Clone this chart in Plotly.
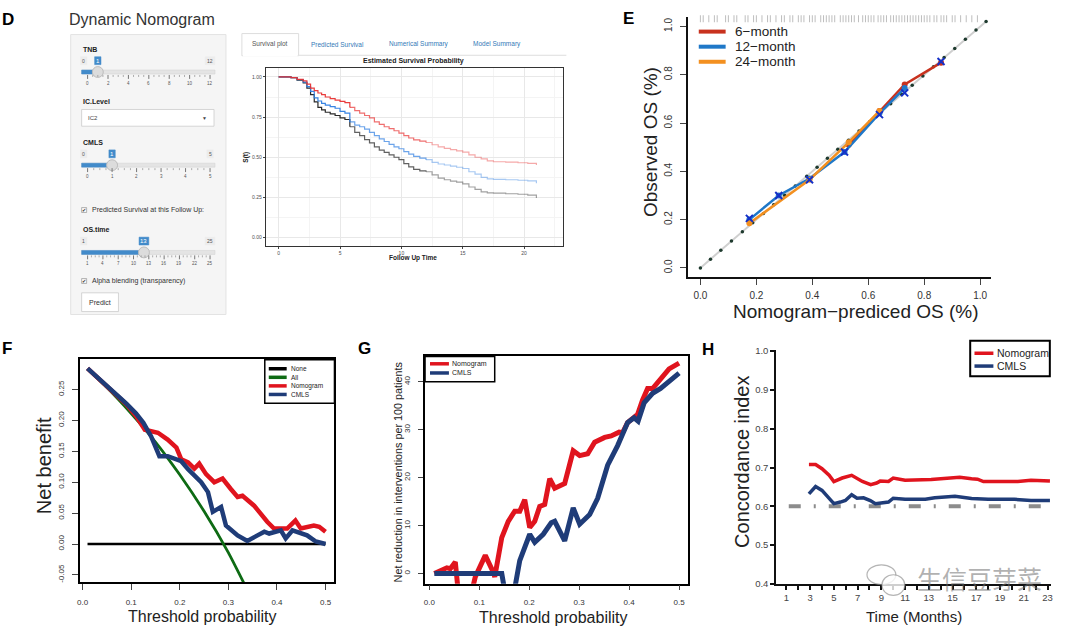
import plotly.graph_objects as go

W, H = 1080, 632
FONT = "Liberation Sans, Arial, sans-serif"

# ======================= DATA =======================
# Panel D - predicted survival curves (three covariate profiles)
km_time = [0, 1.0, 1.5, 2.0, 2.3, 2.6, 2.9, 3.2, 3.5, 3.8, 4.2, 4.6, 5.0, 5.4, 5.8,
           6.2, 6.6, 7.0, 7.4, 7.8, 8.2, 8.6, 9.0, 9.4, 9.8, 10.2, 10.6, 11.0, 11.5,
           12.0, 12.5, 13.0, 13.5, 14.0, 14.5, 15.0, 15.5, 16.0, 16.5, 17.0, 17.5,
           18.5, 19.5, 20.3, 21.0]
km_surv_red = [1.0, 0.995, 0.985, 0.975, 0.955, 0.93, 0.915, 0.90, 0.89, 0.875, 0.865,
               0.855, 0.848, 0.84, 0.81, 0.79, 0.775, 0.76, 0.745, 0.72, 0.705, 0.69,
               0.678, 0.665, 0.65, 0.635, 0.62, 0.608, 0.60, 0.592, 0.578, 0.565, 0.555,
               0.548, 0.54, 0.532, 0.515, 0.50, 0.49, 0.478, 0.472, 0.470, 0.466, 0.462,
               0.452]
km_surv_blue = [1.0, 0.995, 0.983, 0.968, 0.94, 0.91, 0.87, 0.85, 0.835, 0.825, 0.815,
                0.805, 0.785, 0.775, 0.72, 0.70, 0.69, 0.675, 0.655, 0.635, 0.615, 0.598,
                0.58, 0.565, 0.553, 0.535, 0.52, 0.505, 0.495, 0.485, 0.468, 0.458, 0.452,
                0.445, 0.438, 0.43, 0.41, 0.395, 0.375, 0.365, 0.362, 0.36, 0.357, 0.353,
                0.339]
km_surv_black = [1.0, 0.995, 0.98, 0.963, 0.93, 0.89, 0.845, 0.81, 0.795, 0.78, 0.77,
                 0.76, 0.745, 0.735, 0.69, 0.655, 0.635, 0.61, 0.59, 0.565, 0.545, 0.53,
                 0.515, 0.50, 0.485, 0.46, 0.44, 0.425, 0.415, 0.41, 0.39, 0.37, 0.36,
                 0.352, 0.345, 0.335, 0.315, 0.30, 0.285, 0.278, 0.277, 0.273, 0.27, 0.265,
                 0.247]
km_xticks = [0, 5, 10, 15, 20]
km_yticks = [0, 0.25, 0.5, 0.75, 1.0]
km_yticktext = ["0.00", "0.25", "0.50", "0.75", "1.00"]

# Shiny app widgets
tabs = ["Survival plot", "Predicted Survival", "Numerical Summary", "Model Summary"]
tnb_ticks = ["0", "2", "4", "6", "8", "10", "12"]
cmls_ticks = ["0", "1", "2", "3", "4", "5"]
ostime_ticks = ["1", "4", "7", "10", "13", "16", "19", "22", "25"]

# Panel E - calibration
cal_6m_x = [0.53, 0.64, 0.73, 0.86]
cal_6m_y = [0.51, 0.65, 0.76, 0.85]
cal_12m_x = [0.175, 0.28, 0.39, 0.515, 0.64, 0.73]
cal_12m_y = [0.20, 0.30, 0.37, 0.48, 0.64, 0.745]
cal_24m_x = [0.175, 0.39, 0.53, 0.64]
cal_24m_y = [0.185, 0.365, 0.52, 0.65]
cal_corr_x = [0.175, 0.28, 0.39, 0.515, 0.64, 0.73, 0.86]
cal_corr_y = [0.205, 0.30, 0.365, 0.48, 0.635, 0.725, 0.855]
ideal_pts = [0.0, 0.036, 0.073, 0.111, 0.150, 0.187, 0.225, 0.262, 0.301, 0.339, 0.380,
             0.417, 0.454, 0.491, 0.529, 0.567, 0.605, 0.643, 0.680, 0.719, 0.757, 0.795,
             0.833, 0.871, 0.909, 0.947, 0.985, 1.021]
rug_x = [0.0, 0.01, 0.03, 0.05, 0.06, 0.09, 0.1, 0.12, 0.13, 0.16, 0.17, 0.19, 0.2, 0.22,
         0.24, 0.25, 0.27, 0.29, 0.3, 0.32, 0.33, 0.35, 0.36, 0.37, 0.39, 0.4, 0.41, 0.43,
         0.44, 0.45, 0.46, 0.47, 0.48, 0.5, 0.51, 0.52, 0.53, 0.54, 0.55, 0.565, 0.58, 0.59,
         0.6, 0.61, 0.62, 0.635, 0.645, 0.655, 0.665, 0.68, 0.69, 0.7, 0.71, 0.72, 0.73,
         0.74, 0.75, 0.76, 0.77, 0.78, 0.79, 0.8, 0.81, 0.82, 0.835, 0.845, 0.86, 0.87, 0.88,
         0.9, 0.91, 0.93, 0.95, 0.97, 0.99]
e_ticks = [0, 0.2, 0.4, 0.6, 0.8, 1.0]
e_ticktext = ["0.0", "0.2", "0.4", "0.6", "0.8", "1.0"]

# Panel F - decision curve
dca_none_x = [0.01, 0.5]
dca_none_y = [0.0, 0.0]
dca_all_x = [0.01, 0.05, 0.10, 0.15, 0.20, 0.25, 0.30, 0.335]
dca_all_y = [0.283, 0.253, 0.211, 0.165, 0.112, 0.053, -0.014, -0.068]
dca_nomo_x = [0.01, 0.03, 0.05, 0.07, 0.09, 0.11, 0.128, 0.155, 0.175, 0.193, 0.203,
              0.217, 0.230, 0.240, 0.254, 0.271, 0.288, 0.305, 0.319, 0.329, 0.353,
              0.380, 0.394, 0.421, 0.438, 0.449, 0.476, 0.487, 0.5]
dca_nomo_y = [0.284, 0.27, 0.254, 0.24, 0.226, 0.207, 0.185, 0.18, 0.169, 0.156, 0.137,
              0.132, 0.122, 0.130, 0.113, 0.100, 0.106, 0.089, 0.076, 0.078, 0.062,
              0.036, 0.025, 0.025, 0.038, 0.025, 0.030, 0.028, 0.020]
dca_cmls_x = [0.01, 0.03, 0.05, 0.07, 0.09, 0.11, 0.125, 0.141, 0.158, 0.175, 0.203,
              0.217, 0.244, 0.258, 0.268, 0.285, 0.295, 0.319, 0.339, 0.360, 0.374,
              0.384, 0.408, 0.418, 0.432, 0.462, 0.480, 0.5]
dca_cmls_y = [0.284, 0.27, 0.256, 0.241, 0.227, 0.211, 0.196, 0.174, 0.142, 0.142, 0.134,
              0.121, 0.100, 0.084, 0.052, 0.060, 0.030, 0.014, 0.005, 0.014, 0.020,
              0.017, 0.022, 0.009, 0.022, 0.014, 0.004, 0.0]
f_xticks = [0, 0.1, 0.2, 0.3, 0.4, 0.5]
f_xticktext = ["0.0", "0.1", "0.2", "0.3", "0.4", "0.5"]
f_yticks = [-0.05, 0, 0.05, 0.10, 0.15, 0.20, 0.25]
f_yticktext = ["-0.05", "0.00", "0.05", "0.10", "0.15", "0.20", "0.25"]

# Panel G - net reduction in interventions
nr_nomo_x = [0.01, 0.022, 0.035, 0.042, 0.052, 0.060, 0.080, 0.092, 0.112, 0.128, 0.131,
             0.145, 0.158, 0.171, 0.181, 0.191, 0.201, 0.211, 0.221, 0.231, 0.241, 0.251,
             0.271, 0.288, 0.301, 0.317, 0.331, 0.351, 0.364, 0.380, 0.387, 0.397, 0.417,
             0.427, 0.437, 0.447, 0.467, 0.480, 0.5]
nr_nomo_y = [0, 0.7, 1.2, 1.0, 2.4, -6, -6, -0.7, 3.8, 0.3, -0.7, 7.5, 10.9, 13.0, 13.0,
             15.4, 9.6, 10.9, 14.0, 14.4, 19.8, 17.8, 18.8, 25.6, 24.6, 25.0, 27.4, 28.4,
             28.7, 29.5, 29.4, 31.5, 33.2, 36.2, 38.6, 38.6, 41.0, 42.7, 43.9]
nr_cmls_x = [0.01, 0.145, 0.155, 0.166, 0.181, 0.201, 0.211, 0.228, 0.244, 0.251, 0.271,
             0.288, 0.301, 0.321, 0.337, 0.357, 0.377, 0.397, 0.410, 0.418, 0.430, 0.447,
             0.463, 0.477, 0.5]
nr_cmls_y = [0, 0, -6, -6, 2.7, 8.2, 6.5, 8.2, 10.6, 10.9, 6.8, 13.7, 10.3, 12.3, 15.7,
             22.6, 26.7, 31.5, 32.5, 31.8, 35.6, 37.6, 38.6, 39.7, 41.8]
g_yticks = [0, 10, 20, 30, 40]

# Panel H - time-dependent C-index
ci_nomo_t = [2.9, 3.46, 4.0, 4.6, 5.0, 5.7, 6.5, 7.4, 8.1, 8.6, 8.9, 9.6, 10.0, 11.0,
             13.2, 14.6, 15.6, 16.6, 17.1, 17.6, 18.8, 20.5, 21.6, 23.2]
ci_nomo = [0.708, 0.708, 0.697, 0.680, 0.664, 0.673, 0.680, 0.664, 0.656, 0.660, 0.665,
           0.664, 0.673, 0.667, 0.669, 0.672, 0.675, 0.671, 0.670, 0.664, 0.664, 0.664,
           0.667, 0.665]
ci_cmls_t = [2.9, 3.46, 4.0, 4.6, 5.0, 5.55, 5.97, 6.5, 6.95, 7.5, 8.07, 8.5, 9.0, 9.6,
             10.0, 11.0, 12.7, 13.5, 15.2, 16.0, 16.6, 18.0, 20.2, 21.6, 23.2]
ci_cmls = [0.632, 0.651, 0.641, 0.621, 0.607, 0.611, 0.615, 0.630, 0.621, 0.622, 0.615,
           0.607, 0.609, 0.611, 0.621, 0.618, 0.618, 0.622, 0.626, 0.622, 0.620, 0.618,
           0.618, 0.615, 0.615]
ci_ref_t = [1.2, 23.1]
ci_ref = [0.6, 0.6]
h_xticks = [1, 3, 5, 7, 9, 11, 13, 15, 17, 19, 21, 23]
h_yticks = [0.4, 0.5, 0.6, 0.7, 0.8, 0.9, 1.0]
h_yticktext = ["0.4", "0.5", "0.6", "0.7", "0.8", "0.9", "1.0"]

# colours
RED = "#E0141E"
NAVY = "#1F3C78"
GREEN = "#0E6B14"
C6 = "#C8321E"
C12 = "#1F78C8"
C24 = "#F39020"

# ======================= HELPERS =======================
def px(x):
    return x / W


def py(y):
    return 1 - y / H


annotations = []
shapes = []


def txt(x, y, s, size, color="#222", anchor="left", angle=0, family=FONT, vanchor="middle"):
    annotations.append(dict(x=px(x), y=py(y), xref="paper", yref="paper", text=s,
                            showarrow=False, xanchor=anchor, yanchor=vanchor,
                            textangle=angle, font=dict(size=size, color=color, family=family)))


def rect(x0, y0, x1, y1, fill="rgba(0,0,0,0)", line="#000", lw=1, layer="above"):
    shapes.append(dict(type="rect", xref="paper", yref="paper", x0=px(x0), x1=px(x1),
                       y0=py(y1), y1=py(y0), fillcolor=fill,
                       line=dict(color=line, width=lw), layer=layer))


def seg(x0, y0, x1, y1, color="#000", lw=1, dash="solid"):
    shapes.append(dict(type="line", xref="paper", yref="paper", x0=px(x0), x1=px(x1),
                       y0=py(y0), y1=py(y1), line=dict(color=color, width=lw, dash=dash)))


def circle(cx, cy, r, fill, line, lw=1):
    shapes.append(dict(type="circle", xref="paper", yref="paper", x0=px(cx - r), x1=px(cx + r),
                       y0=py(cy + r), y1=py(cy - r), fillcolor=fill,
                       line=dict(color=line, width=lw)))


def small_box(cx, cy, s, bg, fg, size=5):
    w = 3 + len(s) * 3.4
    rect(cx - w / 2, cy - 4, cx + w / 2, cy + 4, fill=bg, line=bg, lw=0.5)
    txt(cx, cy, s, size, color=fg, anchor="center")


def slider(ylab, label, ticks, val_idx_pos, val_text, x0=85, x1=208):
    txt(78, ylab, "<b>" + label + "</b>", 7)
    ybub = ylab + 11.5
    ytr = ylab + 23
    small_box(81, ybub, ticks[0], "#ececec", "#555", 5)
    small_box(x1, ybub, ticks[-1], "#ececec", "#555", 5)
    hx = x0 + val_idx_pos * (x1 - x0)
    rect(79, ytr - 2, 213, ytr + 2, fill="#e4e4e4", line="#d0d0d0", lw=0.5)
    rect(79, ytr - 2, hx, ytr + 2, fill="#428bca", line="#428bca", lw=0.5)
    small_box(hx, ybub, val_text, "#428bca", "white", 6)
    circle(hx, ytr, 5.5, "#dcdcdc", "#bdbdbd", 1)
    n = len(ticks)
    step = (x1 - x0) / (n - 1)
    for i in range(n):
        xx = x0 + i * step
        seg(xx, ytr + 3, xx, ytr + 7, "#777", 1)
        if i < n - 1:
            for k in range(1, 4):
                xm = xx + k * step / 4
                seg(xm, ytr + 3, xm, ytr + 5, "#999", 0.8)
        txt(xx, ytr + 11.5, ticks[i], 4.5, color="#555", anchor="center")


def checkbox(y, label):
    rect(79, y - 2.5, 84, y + 2.5, fill="#f8f8f8", line="#888", lw=0.6)
    txt(81.5, y, "✔", 5, color="#333", anchor="center")
    txt(87, y, label, 7, color="#333")


# ======================= FIGURE =======================
fig = go.Figure()

# ---- Panel D: Shiny app ----
txt(-3, 16, "<b>D</b>", 17, color="#000")
txt(64, 16, "Dynamic Nomogram", 16, color="#333")
rect(68, 31, 224, 315, fill="#f5f5f5", line="#e3e3e3", lw=1, layer="below")
slider(46, "TNB", tnb_ticks, 1 / 12, "1")
txt(78, 99, "<b>IC.Level</b>", 7)
rect(79, 107, 212, 124, fill="white", line="#cccccc", lw=0.8)
txt(83, 115.5, "IC2", 6, color="#444")
txt(202, 115.5, "▼", 5, color="#444", anchor="center")
slider(140.5, "CMLS", cmls_ticks, 1 / 5, "1")
checkbox(209, "Predicted Survival at this Follow Up:")
slider(229, "OS.time", ostime_ticks, 0.46, "13")
checkbox(281, "Alpha blending (transparency)")
rect(79, 293, 116, 312, fill="white", line="#cccccc", lw=0.8)
txt(97.5, 302.5, "Predict", 7, color="#333", anchor="center")

# tabs
rect(240, 30, 297, 52.5, fill="white", line="#dddddd", lw=1, layer="below")
seg(297, 52, 566, 52, "#dddddd", 1)
seg(241, 52.3, 296, 52.3, "white", 2)
tab_centers = [268.5, 336, 418, 496]
for i, t in enumerate(tabs):
    txt(tab_centers[i], 41, t, 6.5, color="#555" if i == 0 else "#337ab7", anchor="center")

# KM curves with alpha blending
seg_idx = [(0, 15), (14, 30), (29, len(km_time))]
seg_alpha = [0.95, 0.7, 0.42]
for surv, rgb in [(km_surv_black, "30,30,30"), (km_surv_blue, "45,125,225"),
                  (km_surv_red, "232,50,50")]:
    for (a, b), al in zip(seg_idx, seg_alpha):
        fig.add_trace(go.Scatter(x=km_time[a:b], y=surv[a:b], mode="lines",
                                 line=dict(color=f"rgba({rgb},{al})", width=1.2, shape="hv"),
                                 xaxis="x", yaxis="y", hoverinfo="skip"))
txt(412, 58, "<b>Estimated Survival Probability</b>", 7, anchor="center")
txt(412, 258, "<b>Follow Up Time</b>", 6.5, anchor="center")
txt(244, 155, "<b>S(t)</b>", 6.5, anchor="center", angle=-90)

# ---- Panel E: calibration ----
txt(621, 15, "<b>E</b>", 17, color="#000")
fig.add_trace(go.Scatter(x=[ideal_pts[0], ideal_pts[-1]], y=[ideal_pts[0], ideal_pts[-1]],
                         mode="lines", line=dict(color="#cfcfcf", width=2),
                         xaxis="x2", yaxis="y2", hoverinfo="skip"))
fig.add_trace(go.Scatter(x=ideal_pts, y=ideal_pts, mode="markers",
                         marker=dict(color="#1e3a2e", size=3.5),
                         xaxis="x2", yaxis="y2", hoverinfo="skip"))
fig.add_trace(go.Scatter(x=rug_x, y=[1.032] * len(rug_x), mode="markers",
                         marker=dict(symbol="line-ns", size=5,
                                     line=dict(color="rgba(110,110,110,0.45)", width=1)),
                         xaxis="x2", yaxis="y2", hoverinfo="skip", cliponaxis=False))
for xs, ys, c in [(cal_6m_x, cal_6m_y, C6), (cal_12m_x, cal_12m_y, C12),
                  (cal_24m_x, cal_24m_y, C24)]:
    fig.add_trace(go.Scatter(x=xs, y=ys, mode="lines+markers",
                             line=dict(color=c, width=2.5),
                             marker=dict(color=c, size=6),
                             xaxis="x2", yaxis="y2", hoverinfo="skip"))
fig.add_trace(go.Scatter(x=cal_corr_x, y=cal_corr_y, mode="markers",
                         marker=dict(symbol="x-thin", size=7,
                                     line=dict(color="#1530c8", width=2)),
                         xaxis="x2", yaxis="y2", hoverinfo="skip"))
for i, (lab, c) in enumerate([("6−month", C6), ("12−month", C12), ("24−month", C24)]):
    yy = 28 + i * 15.3
    seg(699, yy, 726, yy, c, 4)
    txt(733, yy, lab, 13.5, color="#222")
txt(650, 140, "Observed OS (%)", 19, anchor="center", angle=-90)
txt(857, 312, "Nomogram−prediced OS (%)", 19, anchor="center")

# ---- Panel F: DCA ----
txt(-3, 349, "<b>F</b>", 17, color="#000")
fig.add_trace(go.Scatter(x=dca_none_x, y=dca_none_y, mode="lines",
                         line=dict(color="#000", width=2.5), xaxis="x3", yaxis="y3",
                         hoverinfo="skip"))
fig.add_trace(go.Scatter(x=dca_all_x, y=dca_all_y, mode="lines",
                         line=dict(color=GREEN, width=2.8, shape="spline", smoothing=0.4),
                         xaxis="x3", yaxis="y3", hoverinfo="skip"))
fig.add_trace(go.Scatter(x=dca_nomo_x, y=dca_nomo_y, mode="lines",
                         line=dict(color=RED, width=4.5), xaxis="x3", yaxis="y3",
                         hoverinfo="skip"))
fig.add_trace(go.Scatter(x=dca_cmls_x, y=dca_cmls_y, mode="lines",
                         line=dict(color=NAVY, width=4.5), xaxis="x3", yaxis="y3",
                         hoverinfo="skip"))
rect(263, 361, 333, 405, fill="white", line="#000", lw=1.5)
for i, (lab, c) in enumerate([("None", "#000"), ("All", GREEN), ("Nomogram", RED),
                              ("CMLS", NAVY)]):
    yy = 370 + i * 8.7
    seg(267, yy, 285, yy, c, 3.5)
    txt(287, yy, lab, 6.5, color="#222")
txt(42, 468, "Net benefit", 20, anchor="center", angle=-90)
txt(200, 621, "Threshold probability", 16, anchor="center")

# ---- Panel G: net reduction ----
txt(355, 349, "<b>G</b>", 17, color="#000")
fig.add_trace(go.Scatter(x=nr_nomo_x, y=nr_nomo_y, mode="lines",
                         line=dict(color=RED, width=5), xaxis="x4", yaxis="y4",
                         hoverinfo="skip"))
fig.add_trace(go.Scatter(x=nr_cmls_x, y=nr_cmls_y, mode="lines",
                         line=dict(color=NAVY, width=5), xaxis="x4", yaxis="y4",
                         hoverinfo="skip"))
rect(424, 357.7, 494, 383.3, fill="white", line="#000", lw=1.5)
for i, (lab, c) in enumerate([("Nomogram", RED), ("CMLS", NAVY)]):
    yy = 365 + i * 9.3
    seg(429, yy, 448, yy, c, 3.5)
    txt(449, yy, lab, 7, color="#222")
txt(397, 475, "Net reduction in interventions per 100 patients", 10.8, anchor="center",
    angle=-90)
txt(553, 622, "Threshold probability", 16, anchor="center")

# ---- Panel H: C-index ----
txt(700, 350, "<b>H</b>", 17, color="#000")
fig.add_trace(go.Scatter(x=ci_ref_t, y=ci_ref, mode="lines",
                         line=dict(color="#8c8c8c", width=4, dash="12px,13px,2px,13px"),
                         xaxis="x5", yaxis="y5", hoverinfo="skip"))
fig.add_trace(go.Scatter(x=ci_nomo_t, y=ci_nomo, mode="lines",
                         line=dict(color=RED, width=3.5), xaxis="x5", yaxis="y5",
                         hoverinfo="skip"))
fig.add_trace(go.Scatter(x=ci_cmls_t, y=ci_cmls, mode="lines",
                         line=dict(color=NAVY, width=3.5), xaxis="x5", yaxis="y5",
                         hoverinfo="skip"))
rect(971.7, 341.7, 1051.7, 377.7, fill="white", line="#000", lw=2)
for i, (lab, c) in enumerate([("Nomogram", RED), ("CMLS", NAVY)]):
    yy = 354.3 + i * 13
    seg(976, yy, 995, yy, c, 3.5)
    txt(997, yy, lab, 10.5, color="#222")
txt(743, 465, "Concordance index", 20, anchor="center", angle=-90)
txt(915, 621, "Time (Months)", 15, anchor="center")

# watermark
shapes.append(dict(type="circle", xref="paper", yref="paper", x0=px(868), x1=px(897),
                   y0=py(589), y1=py(569), fillcolor="rgba(255,255,255,0.6)",
                   line=dict(color="rgba(120,120,120,0.55)", width=1.2)))
shapes.append(dict(type="circle", xref="paper", yref="paper", x0=px(883), x1=px(906),
                   y0=py(600), y1=py(579), fillcolor="rgba(255,255,255,0.8)",
                   line=dict(color="rgba(120,120,120,0.55)", width=1.2)))
txt(981, 582, "生信豆芽菜", 25, color="rgba(110,110,110,0.55)", anchor="center",
    family="Noto Sans CJK SC")

# ======================= AXES =======================
def base_axis(**kw):
    d = dict(showgrid=False, zeroline=False, ticks="outside", fixedrange=True,
             tickfont=dict(family=FONT, size=8, color="#333"))
    d.update(kw)
    return d


layout_axes = dict(
    xaxis=base_axis(domain=[px(264), px(563)], range=[-1.05, 23.2], anchor="y",
                    tickvals=km_xticks, ticklen=2, tickcolor="#444",
                    tickfont=dict(family=FONT, size=5, color="#4d4d4d"),
                    showgrid=True, gridcolor="#e8e8e8", gridwidth=1,
                    minor=dict(dtick=2.5, tick0=0, showgrid=True, gridcolor="#f4f4f4"),
                    showline=True, mirror=True, linecolor="#333", linewidth=1),
    yaxis=base_axis(domain=[py(245), py(65)], range=[-0.049, 1.055], anchor="x",
                    tickvals=km_yticks, ticktext=km_yticktext, ticklen=2, tickcolor="#444",
                    tickfont=dict(family=FONT, size=5, color="#4d4d4d"),
                    showgrid=True, gridcolor="#e8e8e8", gridwidth=1,
                    minor=dict(dtick=0.125, tick0=0, showgrid=True, gridcolor="#f4f4f4"),
                    showline=True, mirror=True, linecolor="#333", linewidth=1),
    xaxis2=base_axis(domain=[px(688), px(993)], range=[-0.045, 1.04], anchor="y2",
                     tickvals=e_ticks, ticktext=e_ticktext, ticklen=6, tickwidth=1.2,
                     ticklabelstandoff=2,
                     tickfont=dict(family=FONT, size=10, color="#333"),
                     showline=True, linecolor="#111", linewidth=1.5),
    yaxis2=base_axis(domain=[py(277), py(13)], range=[-0.038, 1.04], anchor="x2",
                     tickvals=e_ticks, ticktext=e_ticktext, ticklen=6, tickwidth=1.2,
                     ticklabelstandoff=4,
                     tickangle=-90, tickfont=dict(family=FONT, size=10, color="#333"),
                     showline=True, linecolor="#111", linewidth=1.5),
    xaxis3=base_axis(domain=[px(77), px(333)], range=[-0.0062, 0.5184], anchor="y3",
                     tickvals=f_xticks, ticktext=f_xticktext, ticklen=6,
                     ticklabelstandoff=5,
                     showline=True, mirror=True, linecolor="#000", linewidth=1.5),
    yaxis3=base_axis(domain=[py(586.7), py(360)], range=[-0.062, 0.2995], anchor="x3",
                     tickvals=f_yticks, ticktext=f_yticktext, ticklen=6, tickangle=-90,
                     ticklabelstandoff=5,
                     showline=True, mirror=True, linecolor="#000", linewidth=1.5),
    xaxis4=base_axis(domain=[px(424), px(688)], range=[-0.0086, 0.5175], anchor="y4",
                     tickvals=f_xticks, ticktext=f_xticktext, ticklen=5,
                     ticklabelstandoff=5,
                     showline=True, mirror=True, linecolor="#000", linewidth=1.5),
    yaxis4=base_axis(domain=[py(588), py(356.7)], range=[-2.1, 45.46], anchor="x4",
                     tickvals=g_yticks, ticklen=5, tickangle=-90,
                     ticklabelstandoff=5,
                     showline=True, mirror=True, linecolor="#000", linewidth=1.5),
    xaxis5=base_axis(domain=[px(777), px(1053)], range=[0.16, 23.3], anchor="y5",
                     tickvals=h_xticks, ticklen=4, tickwidth=2, tickcolor="#111",
                     minor=dict(dtick=1, tick0=0, ticklen=4, tickwidth=2, tickcolor="#111",
                                ticks="outside"),
                     tickfont=dict(family=FONT, size=9.5, color="#444"),
                     showline=True, linecolor="#111", linewidth=2.2),
    yaxis5=base_axis(domain=[py(588.3), py(351)], range=[0.4, 1.003], anchor="x5",
                     tickvals=h_yticks, ticktext=h_yticktext, ticklen=4, tickwidth=2,
                     tickcolor="#111", tickfont=dict(family=FONT, size=9.5, color="#444"),
                     showline=True, linecolor="#111", linewidth=2.2),
)

fig.update_layout(width=W, height=H, margin=dict(l=0, r=0, t=0, b=0),
                  paper_bgcolor="white", plot_bgcolor="white", showlegend=False,
                  font=dict(family=FONT), annotations=annotations, shapes=shapes,
                  **layout_axes)
fig.write_html("out.html", config={"displayModeBar": False},
               post_script="document.body.style.margin='0';")
